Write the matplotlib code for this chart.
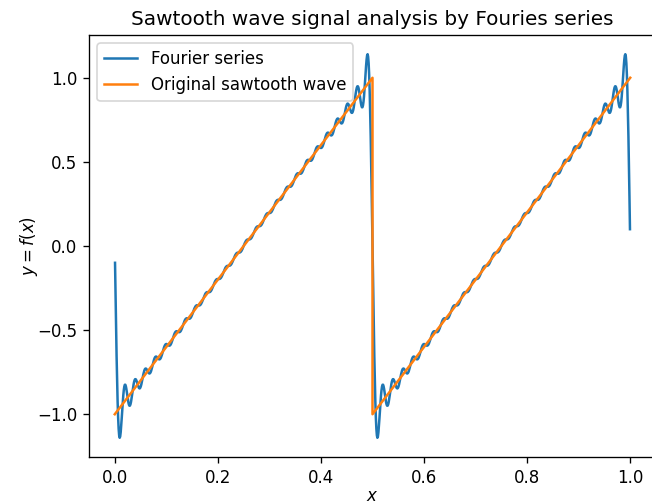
import numpy as np
import matplotlib
matplotlib.use("Agg")
import matplotlib.pyplot as plt

# Original sawtooth: period 0.5, ramp from -1 to 1
saw_x = [0.0, 0.5, 0.5, 1.0]
saw_y = [-1.0, 1.0, -1.0, 1.0]

# Fourier series settings
period = 0.5
n_terms = 25
harmonics = np.arange(1, n_terms + 1)
# sine coefficients of a -1..1 sawtooth ramp
b_coeffs = -2.0 / (np.pi * harmonics)

# evaluation grid (cell midpoints over [0, 1])
n_samples = 1000
x = (np.arange(n_samples) + 0.5) / n_samples
y = np.sum(b_coeffs[:, None] * np.sin(2 * np.pi * harmonics[:, None] * x[None, :] / period), axis=0)

dpi = 120
fig = plt.figure(figsize=(652 / dpi, 504 / dpi), dpi=dpi)
ax = fig.add_axes([89 / 652, 1 - 457 / 504, 567 / 652, 422 / 504])

ax.plot(x, y, color="tab:blue", label="Fourier series")
ax.plot(saw_x, saw_y, color="tab:orange", label="Original sawtooth wave")

ax.set_title("Sawtooth wave signal analysis by Fouries series")
ax.set_xlabel("$x$", labelpad=0.3)
ax.set_ylabel("$y = f(x)$", labelpad=-2)
ax.legend(loc="upper left")
ax.spines["right"].set_visible(False)

fig.savefig("out.png", dpi=dpi)
